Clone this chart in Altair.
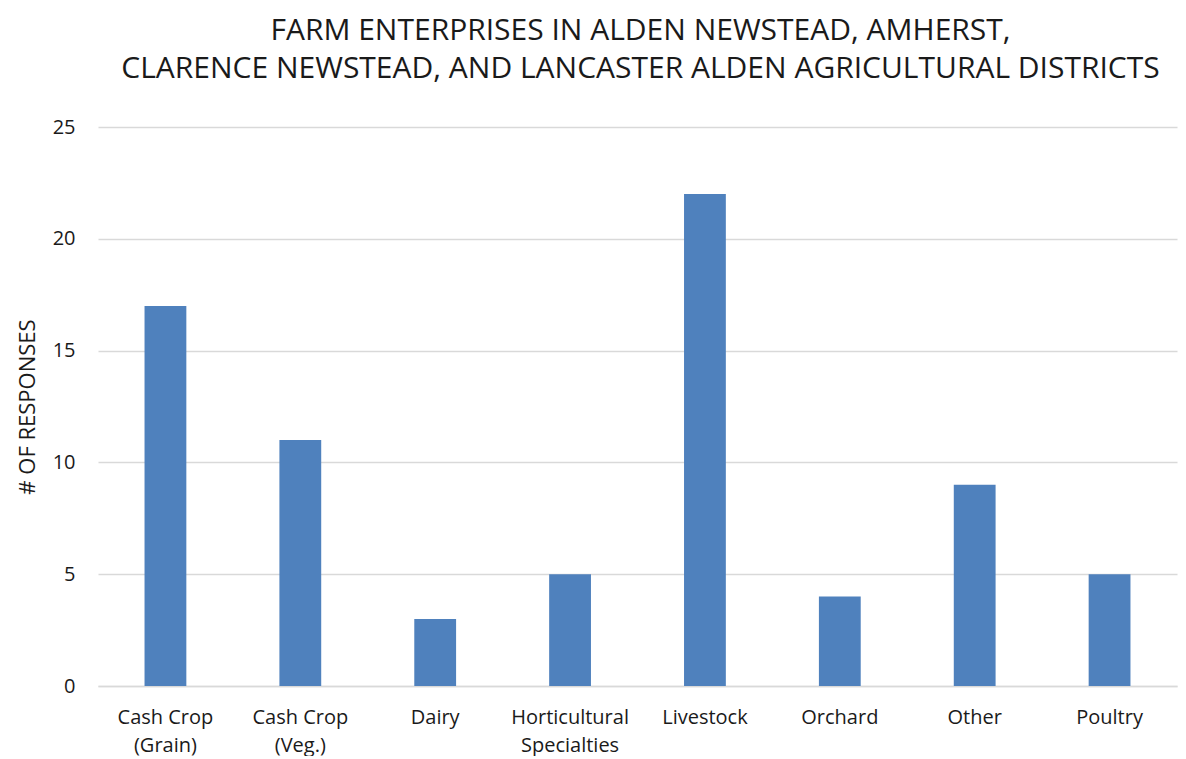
import altair as alt
import pandas as pd

categories = ["Cash Crop|(Grain)", "Cash Crop|(Veg.)", "Dairy", "Horticultural|Specialties",
              "Livestock", "Orchard", "Other", "Poultry"]
values = [17, 11, 3, 5, 22, 4, 9, 5]

df = pd.DataFrame({"cat": categories, "val": values})

FONT = "Open Sans"

chart = alt.Chart(df).mark_bar(color="#4F81BD").encode(
    x=alt.X("cat:N", sort=categories, title=None,
            scale=alt.Scale(paddingInner=0.69, paddingOuter=0.345),
            axis=alt.Axis(labelExpr="split(datum.label, '|')", labelAngle=0,
                          labelFontSize=20, labelFont=FONT, labelColor="#1a1a1a",
                          labelPadding=21, labelLineHeight=28, ticks=False,
                          domainColor="#d9d9d9", domainWidth=1.5, grid=False)),
    y=alt.Y("val:Q", title="# OF RESPONSES",
            scale=alt.Scale(domain=[0, 25]),
            axis=alt.Axis(values=[0, 5, 10, 15, 20, 25], labelFontSize=20, labelFont=FONT,
                          labelColor="#1a1a1a", labelPadding=23, ticks=False, domain=False,
                          gridColor="#d9d9d9", gridWidth=1.5,
                          titleFont=FONT, titleFontSize=22, titleFontWeight="normal",
                          titleColor="#1a1a1a", titlePadding=13)),
).properties(
    width=1079, height=559,
    title=alt.TitleParams(
        ["FARM ENTERPRISES IN ALDEN NEWSTEAD, AMHERST,",
         "CLARENCE NEWSTEAD, AND LANCASTER ALDEN AGRICULTURAL DISTRICTS"],
        font=FONT, fontSize=30, fontWeight="normal", color="#1a1a1a",
        lineHeight=38, anchor="middle", offset=33, dx=3),
    autosize=alt.AutoSizeParams(type="none"),
    padding={"left": 90, "top": 119, "right": 1, "bottom": 70},
).configure_view(stroke=None)

chart.save("out.html", embed_options={"renderer": "svg", "actions": False})
